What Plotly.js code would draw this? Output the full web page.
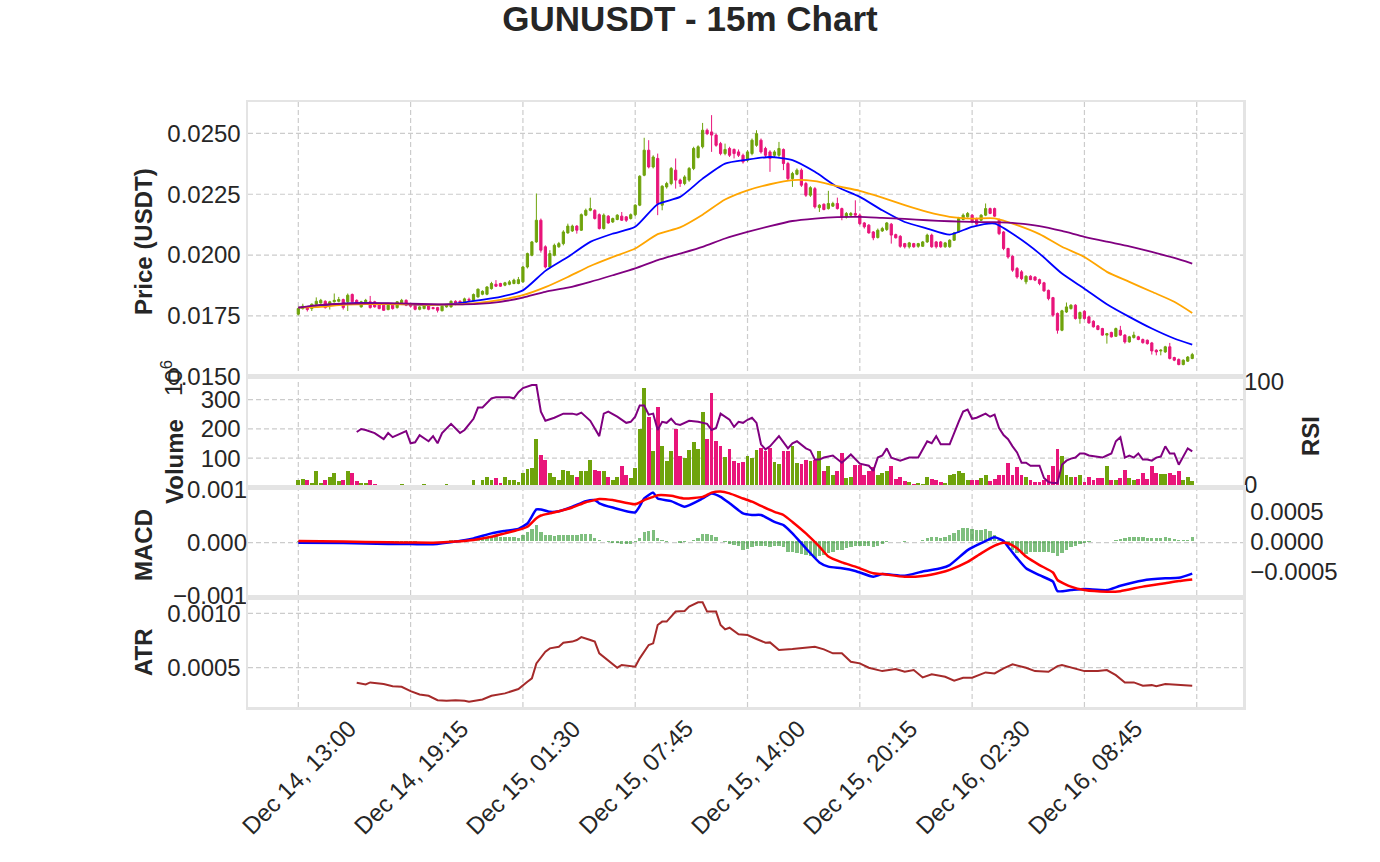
<!DOCTYPE html>
<html>
<head>
<meta charset="utf-8">
<script src="https://cdn.plot.ly/plotly-3.0.1.min.js"></script>
<style>html,body{margin:0;padding:0;background:#fff;}</style>
</head>
<body>
<div id="chart" style="width:1380px;height:862px;"></div>
<script>
// ---------------- DATA ----------------
// 15-minute candles, GUNUSDT, starting Dec 14 13:00 (200 bars). Prices in units of 1e-5 USDT.
const PRICE_UNIT = 1e-5;
const tickLabels = ['Dec 14, 13:00','Dec 14, 19:15','Dec 15, 01:30','Dec 15, 07:45','Dec 15, 14:00','Dec 15, 20:15','Dec 16, 02:30','Dec 16, 08:45'];
const tickPositions = [0,25,50,75,100,125,150,175];
const gridPositions = [0,25,50,75,100,125,150,175,200];

const openP = [
1757,1780,1787,1780,1798,1803,1810,1794,1808,1810,
1817,1808,1838,1814,1787,1808,1808,1808,1798,1794,
1776,1794,1784,1803,1814,1798,1794,1777,1780,1794,
1784,1784,1771,1787,1787,1810,1810,1801,1818,1814,
1828,1839,1839,1862,1880,1883,1876,1880,1883,1883,
1890,1951,1999,2054,2143,2034,1951,1999,2034,2047,
2091,2099,2119,2102,2164,2184,2184,2166,2109,2160,
2136,2146,2160,2157,2150,2166,2205,2328,2431,2362,
2397,2205,2280,2294,2349,2308,2294,2308,2356,2401,
2445,2513,2506,2493,2458,2417,2438,2434,2424,2410,
2390,2417,2451,2472,2438,2424,2410,2410,2434,2376,
2314,2332,2349,2294,2246,2273,2195,2209,2191,2201,
2212,2191,2157,2164,2171,2164,2132,2123,2095,2072,
2099,2105,2127,2084,2077,2047,2034,2047,2036,2036,
2054,2082,2054,2054,2034,2034,2061,2095,2146,2157,
2164,2150,2143,2164,2191,2191,2143,2095,2027,1995,
1945,1931,1890,1913,1910,1899,1886,1855,1825,1760,
1691,1766,1780,1794,1739,1769,1746,1728,1709,1698,
1671,1682,1666,1691,1671,1643,1661,1664,1653,1650,
1639,1609,1606,1602,1623,1579,1571,1550,1564,1575];

const highP = [
1785,1800,1790,1801,1826,1820,1814,1812,1842,1828,
1821,1842,1842,1818,1812,1820,1832,1812,1803,1797,
1798,1798,1810,1820,1818,1801,1798,1790,1798,1798,
1787,1787,1794,1798,1814,1814,1814,1825,1825,1842,
1862,1855,1872,1890,1897,1886,1890,1897,1903,1910,
1955,2010,2058,2253,2150,2040,2020,2047,2054,2102,
2129,2125,2123,2171,2191,2236,2188,2171,2171,2164,
2154,2168,2177,2160,2171,2209,2328,2482,2472,2410,
2417,2287,2301,2362,2397,2314,2328,2362,2445,2451,
2543,2520,2575,2499,2465,2458,2445,2438,2434,2417,
2431,2479,2513,2479,2445,2431,2431,2465,2438,2383,
2342,2356,2356,2301,2283,2280,2209,2212,2264,2219,
2236,2195,2177,2177,2225,2171,2136,2127,2099,2109,
2116,2136,2132,2088,2082,2050,2054,2050,2050,2058,
2088,2088,2058,2058,2054,2065,2095,2157,2171,2177,
2168,2154,2168,2212,2195,2195,2150,2099,2030,1999,
1951,1938,1917,1917,1913,1903,1890,1858,1828,1764,
1775,1805,1798,1798,1768,1773,1750,1732,1712,1701,
1680,1685,1702,1709,1675,1668,1685,1668,1657,1653,
1643,1613,1613,1627,1639,1582,1575,1571,1585,1598];

const lowP = [
1752,1776,1768,1770,1795,1800,1780,1776,1805,1806,
1776,1770,1805,1798,1784,1805,1780,1784,1777,1771,
1773,1776,1780,1801,1790,1784,1773,1773,1777,1773,
1777,1764,1769,1784,1784,1794,1798,1798,1810,1810,
1825,1835,1835,1858,1869,1869,1872,1876,1880,1880,
1886,1945,1995,2050,2010,1945,1945,1995,2030,2040,
2088,2095,2088,2099,2160,2180,2146,2105,2105,2129,
2132,2143,2140,2136,2146,2160,2201,2324,2356,2356,
2164,2184,2273,2287,2273,2280,2287,2301,2349,2397,
2438,2493,2424,2445,2410,2410,2403,2397,2403,2376,
2383,2410,2445,2417,2403,2342,2403,2403,2349,2308,
2280,2328,2280,2239,2239,2191,2177,2184,2187,2198,
2187,2143,2150,2160,2157,2123,2109,2088,2061,2068,
2095,2099,2047,2068,2030,2027,2027,2030,2030,2034,
2050,2030,2027,2030,2030,2030,2058,2091,2143,2154,
2132,2123,2140,2160,2168,2157,2082,2020,1985,1931,
1903,1897,1880,1897,1893,1876,1849,1814,1746,1677,
1687,1762,1776,1735,1718,1735,1718,1702,1691,1668,
1636,1661,1664,1668,1636,1640,1657,1650,1636,1632,
1591,1588,1588,1598,1571,1564,1547,1547,1561,1572];

const closeP = [
1780,1790,1776,1798,1810,1814,1784,1808,1814,1817,
1784,1835,1808,1801,1808,1814,1784,1787,1780,1773,
1794,1780,1808,1814,1794,1790,1777,1787,1794,1777,
1780,1773,1790,1794,1810,1798,1803,1820,1814,1838,
1860,1851,1869,1883,1872,1872,1886,1890,1897,1899,
1951,2006,2054,2143,2020,1951,2006,2040,2047,2095,
2119,2119,2102,2166,2184,2191,2150,2109,2164,2132,
2150,2164,2143,2143,2166,2205,2324,2431,2362,2403,
2212,2283,2294,2356,2308,2294,2321,2356,2438,2445,
2513,2499,2493,2451,2417,2434,2410,2417,2410,2383,
2424,2472,2499,2424,2410,2397,2424,2438,2376,2314,
2335,2349,2287,2246,2277,2198,2205,2187,2212,2212,
2191,2157,2171,2171,2164,2129,2116,2091,2071,2102,
2109,2132,2082,2071,2036,2034,2050,2034,2047,2054,
2082,2034,2034,2034,2050,2061,2091,2150,2164,2171,
2136,2127,2164,2191,2171,2160,2088,2027,1992,1938,
1910,1903,1913,1899,1897,1883,1853,1821,1753,1691,
1771,1787,1794,1739,1764,1739,1721,1705,1694,1671,
1677,1664,1698,1671,1643,1664,1671,1653,1640,1636,
1606,1602,1609,1623,1575,1568,1550,1568,1581,1591];

// Moving averages (units of 1e-5 USDT) at these bar positions
const maBars = [0,5,10,15,20,25,30,35,40,45,50,55,60,65,70,75,80,85,90,95,100,105,110,115,120,125,130,135,140,145,150,155,160,165,170,175,180,185,190,195,199];
const maFast = [1784,1792,1800,1803,1800,1797,1794,1800,1814,1828,1855,1935,1992,2054,2088,2116,2209,2239,2314,2376,2392,2403,2390,2342,2280,2239,2184,2136,2109,2084,2116,2129,2075,2006,1924,1862,1798,1746,1698,1657,1632];
const maMid  = [1784,1787,1795,1798,1798,1797,1795,1797,1803,1816,1835,1868,1910,1955,1992,2027,2086,2114,2166,2228,2266,2291,2308,2304,2283,2264,2236,2205,2177,2157,2150,2151,2123,2086,2034,1992,1931,1890,1849,1808,1762];
const maSlow = [1784,1795,1800,1802,1802,1800,1798,1797,1799,1808,1825,1849,1866,1890,1917,1945,1979,2006,2034,2068,2095,2119,2140,2150,2156,2157,2153,2149,2143,2139,2136,2135,2130,2119,2099,2075,2055,2036,2013,1988,1965];

// Volume in millions (axis offset 1e6)
const volumeM = [
24,30,24,15,55,15,27,37,50,22,
27,58,50,22,17,17,27,12,10,9,
10,9,10,12,7,6,5,9,12,5,
3,7,9,12,9,7,6,9,7,26,
9,24,37,27,31,15,37,27,27,18,
49,64,66,166,112,95,50,37,26,60,
58,44,37,58,56,95,60,58,55,35,
27,37,75,41,32,66,200,340,242,123,
276,140,92,123,200,106,100,128,155,130,
259,164,323,157,141,103,132,92,84,86,
106,100,128,134,126,134,86,81,124,124,
140,83,81,95,90,95,126,58,72,44,
58,117,32,35,78,78,41,56,69,44,
49,55,72,30,35,22,18,12,16,12,
37,30,27,18,16,41,47,55,49,24,
27,26,33,44,22,30,41,41,83,44,
69,44,35,24,18,18,27,41,72,130,
106,44,35,37,41,20,37,27,32,33,
72,27,27,32,60,32,24,30,50,30,
75,49,47,47,50,43,58,26,35,22];

// RSI (right axis of volume panel)
const rsiBars = [13,14,15,17,19,20,21,22,24,25,26,27,29,30,31,32,34,36,37,39,40,41,43,44,45,47,48,49,50,52,53,54,55,57,59,61,62,63,65,66,67,68,69,71,73,74,75,76,77,78,79,80,81,82,83,84,85,87,89,91,92,93,94,96,97,98,99,100,101,102,103,104,105,107,109,110,111,113,114,115,116,117,119,121,123,125,127,128,129,130,131,132,134,136,138,140,141,142,143,145,146,147,148,149,150,151,153,154,155,156,157,158,159,160,161,162,163,164,165,166,167,168,169,170,171,172,173,174,175,176,178,179,180,181,182,183,184,185,186,187,188,189,190,191,192,193,194,195,196,197,198,199];
const rsiVals = [51,54,53,50,44,50,46,48,52,40,41,48,42,47,40,50,59,50,53,64,75,75,84,85,85,85,84,90,94,97,97,71,62,65,69,69,68,70,62,55,47,69,71,66,60,61,66,77,77,68,69,53,61,60,64,59,58,62,61,59,53,55,69,63,56,61,60,63,65,60,39,34,37,47,35,40,42,35,33,24,24,26,28,21,29,20,18,13,26,28,35,26,23,26,26,42,40,47,39,39,51,61,71,73,64,65,69,66,68,55,48,44,37,31,21,21,18,18,18,6,2,1,1,19,23,25,26,30,30,28,27,26,28,30,42,46,26,28,26,30,24,24,23,26,27,37,30,30,19,27,35,32];

// MACD and signal (units of 1e-5)
const macdBars = [0,10,20,25,30,35,39,43,46,49,51,53,54,56,58,61,64,66,67,70,75,77,79,80,83,86,90,92,94,96,99,101,103,106,108,110,113,116,118,121,124,128,130,135,139,143,145,149,152,155,157,158,160,162,165,168,169,172,175,180,183,188,193,196,199];
const macdLine = [0,-0.6,-2.5,-2.5,-3,2,8,17.5,22,26,36,62.5,62.5,58,59,67.5,78,80,74,66,57,83,94,83,78,67.5,83,92.5,86,74,55,52,52,39,33,17.5,-10.6,-37,-45,-48,-53,-64,-59,-62,-54,-48,-42,-14,-1,10,3,-7.5,-29,-48,-61,-73,-91,-89,-87,-89,-81,-71,-67,-66,-58];
const signalLine = [3,2,0.6,0.3,0,2,5,11,17.5,24,30,46,51,55,59,66,76,80,82,80,72,80,86,89,88,83,86,94,96,92.5,83,77,69,58,52,39,17.5,-7.5,-26,-37,-45,-57.5,-59,-64,-62.5,-56,-51,-36,-20,-5.6,0,-1,-10.6,-26,-42,-56,-70,-82.5,-89,-92,-91,-82.5,-76,-72,-69];
// MACD histogram, one value per bar (units of 1e-5, right axis)
const macdHist = [
-0.5,-0.5,-0.5,-0.5,-0.5,-0.5,-0.5,-0.5,-0.5,-0.5,
-0.6,-0.6,-0.7,-0.7,-0.8,-0.8,-0.7,-0.7,-0.6,-0.6,
-0.5,-0.5,-0.4,-0.4,-0.3,-0.3,-0.3,-0.2,-0.2,-0.1,
0.2,0.5,0.8,1.2,2,2,2.5,3,3.6,5,
6,6,7.5,8,10,8,8,8,7,6,
11,15,20,27.5,15,11,10,9,11,11,
11,11,10,12,12.5,12,6,2.5,0,-1.4,
-3,-3.6,-4,-4.7,-4,-0.3,5.3,15,16.4,19,
5.3,2.5,-1.4,0,0,-2,-1.4,0,2.5,5.3,
12,12,11,6.4,0.8,-1.4,-4.7,-5.8,-8.6,-14,
-12,-10,-7,-7,-7.5,-10,-8.6,-8.6,-10,-17,
-18,-20,-21,-23.6,-25,-27,-25,-23.6,-20,-17,
-14,-14,-11,-10,-8.6,-8.6,-8.6,-8.6,-10,-7.5,
-4.7,-1.4,0,0,0,-1,0,0.8,0,2.5,
5.3,6.4,6.4,5.3,8,11,13.6,19,22,22,
21,19,19,20,16.4,10,2.5,-1.4,-8.6,-14,
-20,-20,-21,-17,-18,-17,-17,-17,-20,-25,
-20,-14,-10,-7,-4.7,-3,-1.4,0.3,0.3,0.3,
0.8,0.8,2.5,3.6,5.3,6.4,7,7,6.4,5.3,
5.3,5.3,5.3,6.4,5.3,3.6,2.5,2.5,3,7];

// ATR (units of 1e-5)
const atrBars = [13,15,16,19,21,23,25,27,29,31,33,35,37,38,41,43,46,49,51,52,53,55,56,58,59,61,62,63,65,66,67,69,71,72,75,76,78,79,80,81,82,84,86,87,89,90,91,93,94,95,96,98,100,102,104,105,107,110,112,115,117,119,121,123,125,127,130,132,133,135,137,139,141,144,146,148,150,153,155,157,159,162,164,167,169,170,173,175,178,180,182,184,186,188,190,191,193,195,197,199];
const atrVals = [36.2,34.7,36.5,35,33,32.5,28.5,25.4,24.2,20.2,19.6,20.2,19.6,18.7,20.8,24.2,26.4,30.4,37.1,40.2,54,64.7,67.8,69.3,73,74,75.5,78.2,75.5,74,63.2,57,50,52.5,51,58.6,70.9,72.4,89.3,92.4,92.4,101.6,102.2,106.2,110.2,110.2,101.6,101.6,89.3,85.3,86.8,80.7,80,76.4,73,73.3,66.3,67.2,67.8,69.3,66.9,63.2,63.2,55.5,54,50,46.9,48.5,48.8,46.3,47.9,41.1,43.9,41.7,38,40.8,40.8,45.7,44.8,49.4,53.1,50,46.9,46.3,51.5,52.5,48.8,46.9,46.9,47.9,43.2,36.5,36.5,33.4,34,33.1,35,34.7,34,33.4];

// Axis tick values per panel
const priceTicks = [0.015,0.0175,0.02,0.0225,0.025];
const volumeTicks = [100,200,300];
const rsiTicks = [0,100];
const macdTicks = [-0.001,0,0.001];
const histTicks = [-0.0005,0,0.0005];
const atrTicks = [0.0005,0.001];

// ---------------- STYLE ----------------
const UP = '#6fa30c', DOWN = '#e8157a';
const FONT = 'Liberation Sans, Arial, Helvetica, sans-serif';
const TXT = '#262626';
const GRID = '#cccccc';
const FRAME = '#e4e4e4';
const TICK_SIZE = 24;
const sc = a => a.map(v => v * PRICE_UNIT);
const barIndex = openP.map((_, i) => i);
const volColors = closeP.map((c, i) => c >= openP[i] ? UP : DOWN);

const traces = [
  {type:'candlestick', x:barIndex, open:sc(openP), high:sc(highP), low:sc(lowP), close:sc(closeP),
   xaxis:'x', yaxis:'y', whiskerwidth:0, hoverinfo:'skip',
   increasing:{line:{color:UP,width:1}, fillcolor:UP},
   decreasing:{line:{color:DOWN,width:1}, fillcolor:DOWN}},
  {type:'scatter', mode:'lines', x:maBars, y:sc(maFast), xaxis:'x', yaxis:'y', line:{color:'#0000ff',width:1.8,shape:'spline',smoothing:0.6}, hoverinfo:'skip'},
  {type:'scatter', mode:'lines', x:maBars, y:sc(maMid), xaxis:'x', yaxis:'y', line:{color:'#ffa500',width:1.8,shape:'spline',smoothing:0.6}, hoverinfo:'skip'},
  {type:'scatter', mode:'lines', x:maBars, y:sc(maSlow), xaxis:'x', yaxis:'y', line:{color:'#800080',width:1.8,shape:'spline',smoothing:0.6}, hoverinfo:'skip'},
  {type:'bar', x:barIndex, y:volumeM, xaxis:'x2', yaxis:'y2', width:0.85, marker:{color:volColors, line:{width:0}}, hoverinfo:'skip'},
  {type:'scatter', mode:'lines', x:rsiBars, y:rsiVals, xaxis:'x2', yaxis:'y3', line:{color:'#800080',width:2}, hoverinfo:'skip'},
  {type:'bar', x:barIndex, y:sc(macdHist), xaxis:'x3', yaxis:'y4', width:0.75, marker:{color:'rgba(0,128,0,0.5)', line:{width:0}}, hoverinfo:'skip'},
  {type:'scatter', mode:'lines', x:macdBars, y:sc(macdLine), xaxis:'x3', yaxis:'y5', line:{color:'#0000ff',width:2.5,shape:'spline',smoothing:0.5}, hoverinfo:'skip'},
  {type:'scatter', mode:'lines', x:macdBars, y:sc(signalLine), xaxis:'x3', yaxis:'y5', line:{color:'#ff0000',width:2.5,shape:'spline',smoothing:0.5}, hoverinfo:'skip'},
  {type:'scatter', mode:'lines', x:atrBars, y:sc(atrVals), xaxis:'x4', yaxis:'y6', line:{color:'#a52a2a',width:2}, hoverinfo:'skip'}
];

function xAx(anchor) {
  return {domain:[0,1], anchor:anchor, range:[-11.2,210.3], tickmode:'array', tickvals:gridPositions,
    showticklabels:false, ticks:'', showgrid:false,
    zeroline:false, showline:true, mirror:true, linecolor:FRAME, linewidth:2.5, fixedrange:true,
    rangeslider:{visible:false}};
}
function yAx(extra) {
  return Object.assign({ticks:'', showgrid:false,
    zeroline:false, showline:true, mirror:true, linecolor:FRAME, linewidth:2.5, fixedrange:true,
    tickfont:{family:FONT,size:TICK_SIZE,color:TXT}, tickmode:'array'}, extra);
}

// dashed grid lines drawn at the tick positions
const gridLine = {color:GRID, width:1.2, dash:'5px,3px'};
const shapes = [];
gridPositions.forEach(p => shapes.push({type:'line', xref:'x', yref:'paper', x0:p, x1:p, y0:0, y1:1, line:gridLine, layer:'below'}));
[['y', priceTicks], ['y2', volumeTicks], ['y5', macdTicks], ['y6', atrTicks]].forEach(([ax, vals]) => {
  vals.forEach(v => shapes.push({type:'line', xref:'paper', yref:ax, x0:0, x1:1, y0:v, y1:v, line:gridLine, layer:'below'}));
});

const annFont = {family:FONT, size:24, color:TXT};
const px2x = px => (px - 248) / 995;
const px2y = py => (707 - py) / 605;
const annotations = [
  {text:'<b>Price (USDT)</b>', x:px2x(143), y:px2y(242)},
  {text:'<b>Volume</b>', x:px2x(174), y:px2y(462)},
  {text:'<b>MACD</b>', x:px2x(143), y:px2y(545)},
  {text:'<b>ATR</b>', x:px2x(143), y:px2y(652)},
  {text:'<b>RSI</b>', x:px2x(1310), y:px2y(436)}
].map(a => Object.assign({xref:'paper', yref:'paper', showarrow:false, textangle:-90, font:annFont, xanchor:'center', yanchor:'middle'}, a));
annotations.push({text:'10<sup>6</sup>', xref:'paper', yref:'paper', x:px2x(172), y:px2y(378), showarrow:false, textangle:-90,
  font:{family:FONT,size:TICK_SIZE,color:TXT}, xanchor:'center', yanchor:'middle'});
tickLabels.forEach((t, i) => {
  annotations.push({text:t, xref:'x4', yref:'paper', x:tickPositions[i], y:px2y(777), showarrow:false, textangle:-45,
    font:{family:FONT,size:TICK_SIZE,color:TXT}, xanchor:'center', yanchor:'middle'});
});

const layout = {
  width:1380, height:862,
  margin:{l:248, r:137, t:102, b:155, pad:0},
  paper_bgcolor:'#ffffff', plot_bgcolor:'rgba(0,0,0,0)',
  showlegend:false,
  font:{family:FONT, color:TXT},
  title:{text:'<b>GUNUSDT - 15m Chart</b>', font:{family:FONT,size:35,color:TXT}, x:0.5, xref:'container', xanchor:'center', y:0.978, yref:'container', yanchor:'middle'},
  bargap:0,
  xaxis: xAx('y'), xaxis2: xAx('y2'), xaxis3: xAx('y4'), xaxis4: xAx('y6'),
  yaxis: yAx({domain:[0.5455,1], anchor:'x', range:[0.01499,0.02629], tickvals:priceTicks, tickformat:'.4f'}),
  yaxis2: yAx({domain:[0.3628,0.5455], anchor:'x2', range:[0,377], tickvals:volumeTicks}),
  yaxis3: yAx({overlaying:'y2', anchor:'x2', side:'right', range:[-3.3,104.9], tickvals:rsiTicks, showline:false}),
  yaxis4: yAx({domain:[0.1818,0.3628], anchor:'x3', side:'right', range:[-0.000928,0.000897], tickvals:histTicks, tickformat:'.4f'}),
  yaxis5: yAx({overlaying:'y4', anchor:'x3', side:'left', range:[-0.00102,0.001036], tickvals:macdTicks, tickformat:'.3f', showline:false}),
  yaxis6: yAx({domain:[0,0.1818], anchor:'x4', range:[0.000139,0.00115], tickvals:atrTicks, tickformat:'.4f'}),
  shapes: shapes,
  annotations: annotations
};

Plotly.newPlot('chart', traces, layout, {displayModeBar:false, staticPlot:true});
</script>
</body>
</html>
